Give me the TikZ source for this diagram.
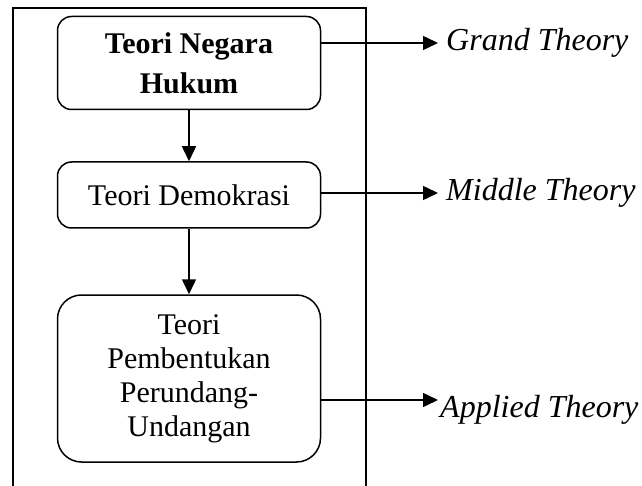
\documentclass[tikz,border=0pt]{standalone}
\usepackage{fontspec}
\setmainfont{Liberation Serif}
\usetikzlibrary{positioning,arrows.meta}

\tikzset{
  theoryBox/.style={draw,line width=1.5pt,rounded corners=14pt,minimum width=263pt,
                    align=center,font=\fontsize{30}{34}\selectfont},
  theoryLabel/.style={anchor=west,inner sep=2pt,font=\fontsize{32}{34}\selectfont\itshape},
  flowArrow/.style={line width=1.5pt,-{Triangle[length=15pt,width=14pt]}}
}

\begin{document}
\begin{tikzpicture}[x=1pt,y=-1pt]
\useasboundingbox (0,0) rectangle (642,486);
% outer frame, open at the bottom
\draw[line width=2pt] (13,487) -- (13,8) -- (366,8) -- (366,487);

% the three theory boxes
\node[theoryBox,minimum height=93pt,font=\fontsize{30}{40}\selectfont\bfseries] (negara) at (189,63) {Teori Negara\\Hukum};
\node[theoryBox,minimum height=66pt] (demokrasi) at (189,195) {Teori Demokrasi};
\node[theoryBox,minimum height=167pt,rounded corners=24pt] (pembentukan) at (189,378.5)
  {Teori\\Pembentukan\\Perundang-\\Undangan};

\draw[flowArrow] (negara) -- (demokrasi);
\draw[flowArrow] (demokrasi) -- (pembentukan);

% levels of theory
\coordinate (grandTip) at (438,43);
\coordinate (middleTip) at (438,193);
\coordinate (appliedTip) at (438,400);
\node[theoryLabel] (grand) at ([xshift=6pt]grandTip) {Grand Theory};
\node[theoryLabel] (middle) at ([xshift=6pt]middleTip) {Middle Theory};
\node[theoryLabel] (applied) at ([yshift=-10pt]appliedTip) {Applied Theory};

\draw[flowArrow] (negara.east |- grandTip) -- (grandTip);
\draw[flowArrow] (demokrasi.east |- middleTip) -- (middleTip);
\draw[flowArrow] (pembentukan.east |- appliedTip) -- (appliedTip);
\end{tikzpicture}
\end{document}
